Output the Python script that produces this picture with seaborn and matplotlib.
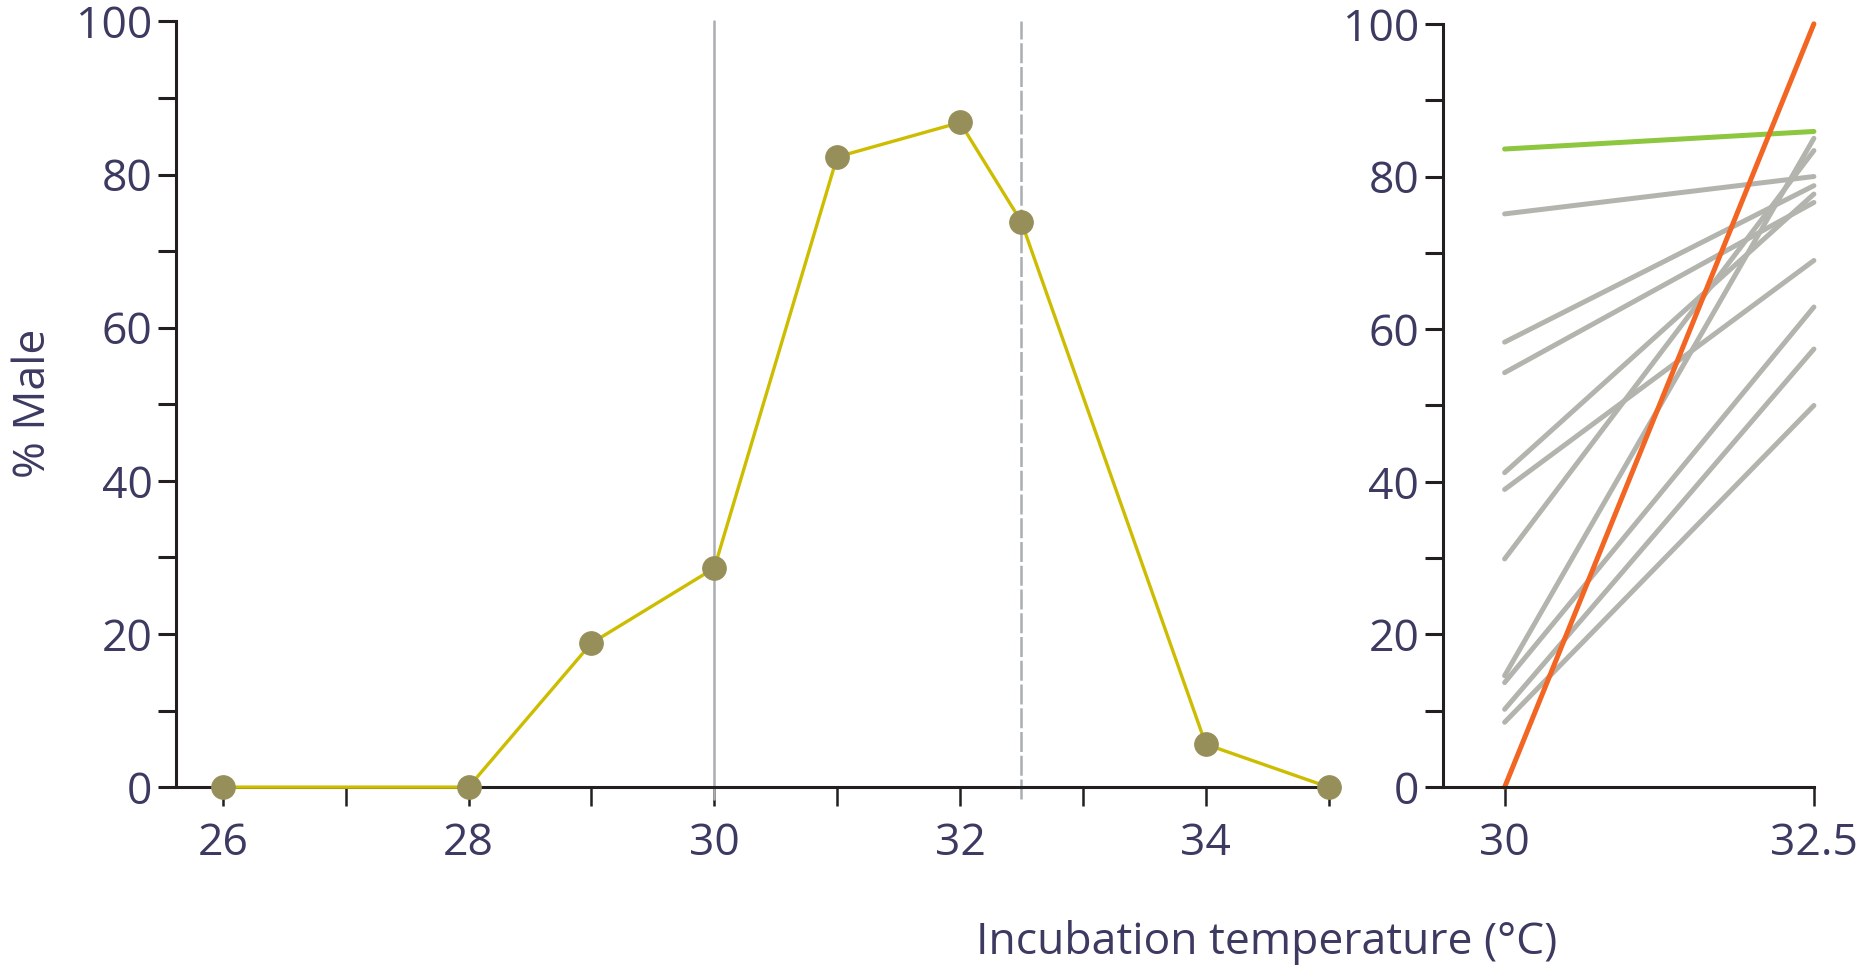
import numpy as np
import pandas as pd
import seaborn as sns
import matplotlib.pyplot as plt

# left panel: % male per incubation temperature
temps = [26, 28, 29, 30, 31, 32, 32.5, 34, 35]
pct_male = [0, 0, 18.8, 28.6, 82.3, 86.8, 73.8, 5.6, 0]

# right panel: clutches at 30 and 32.5 degC
clutch_ids = ['c1', 'c2', 'c3', 'c4', 'c5', 'c6', 'c7', 'c8', 'c9', 'c10', 'green', 'orange']
male_at_30 = [75.1, 58.3, 54.3, 41.2, 39.0, 29.9, 14.6, 13.7, 10.2, 8.5, 83.6, 0.0]
male_at_325 = [80.0, 78.8, 76.6, 77.7, 69.0, 83.4, 85.0, 62.9, 57.4, 50.0, 85.9, 100.0]
pair_temps = [30, 32.5]

xticks_left = [26, 27, 28, 29, 30, 31, 32, 33, 34, 35]
xticklabels_left = ['26', '', '28', '', '30', '', '32', '', '34', '']

dark = '#231f20'
txt = '#3d3a62'
grey_v = '#a9aeb3'

sns.set_style('white')
plt.rcParams['font.family'] = ['Open Sans', 'DejaVu Sans']

fig = plt.figure(figsize=(18.65, 9.73), dpi=100)
ax1 = fig.add_axes([0.0944, 0.191, 0.620, 0.787])
ax2 = fig.add_axes([0.7736, 0.191, 0.199, 0.7845])

# vertical reference lines
ax1.axvline(30, ymin=-0.015, ymax=1.0, color=grey_v, lw=1.8, clip_on=False, zorder=1)
ax1.axvline(32.5, ymin=-0.015, ymax=1.0, color=grey_v, lw=1.8, ls=(0, (8, 1.5)),
            clip_on=False, zorder=1)

df1 = pd.DataFrame({'temp': temps, 'male': pct_male})
sns.lineplot(data=df1, x='temp', y='male', ax=ax1, color='#cdbd00', lw=2.4,
             marker='o', markersize=17, markerfacecolor='#968f5a',
             markeredgecolor='#968f5a', clip_on=False, zorder=3)

rows = []
for cid, a, b in zip(clutch_ids, male_at_30, male_at_325):
    rows.append({'clutch': cid, 'temp': pair_temps[0], 'male': a})
    rows.append({'clutch': cid, 'temp': pair_temps[1], 'male': b})
df2 = pd.DataFrame(rows)
pal = {c: '#b4b4af' for c in clutch_ids}
pal['green'] = '#8dc63f'
pal['orange'] = '#f26522'
sns.lineplot(data=df2, x='temp', y='male', hue='clutch', hue_order=clutch_ids,
             palette=pal, ax=ax2, lw=3.6, legend=False, clip_on=False)

for ax in (ax1, ax2):
    ax.set_ylim(0, 100)
    ax.set_yticks([0, 20, 40, 60, 80, 100])
    ax.set_yticks([10, 30, 50, 70, 90], minor=True)
    for s in ['top', 'right']:
        ax.spines[s].set_visible(False)
    for s in ['left', 'bottom']:
        ax.spines[s].set_color(dark)
        ax.spines[s].set_linewidth(2.2)
    ax.tick_params(axis='y', which='both', direction='out', length=13, width=2.2,
                   color=dark, labelsize=32, labelcolor=txt, pad=4, left=True)
    ax.tick_params(axis='x', which='both', direction='out', length=14, width=1.8,
                   color=dark, labelsize=32, labelcolor=txt, pad=11, bottom=True)
    ax.set_xlabel('')
    ax.set_ylabel('')
    ax.set_facecolor('white')

ax1.set_xlim(25.62, 35.03)
ax1.set_xticks(xticks_left)
ax1.set_xticklabels(xticklabels_left)

ax2.set_xlim(29.5, 32.5)
ax2.set_xticks(pair_temps)
ax2.set_xticklabels(['30', '32.5'])

fig.text(0.018, 0.585, '% Male', rotation=90, ha='center', va='center',
         fontsize=32, color=txt)
fig.text(0.679, 0.031, 'Incubation temperature (°C)', ha='center', va='center',
         fontsize=32, color=txt)

fig.savefig('out.png', dpi=100, facecolor='white')
